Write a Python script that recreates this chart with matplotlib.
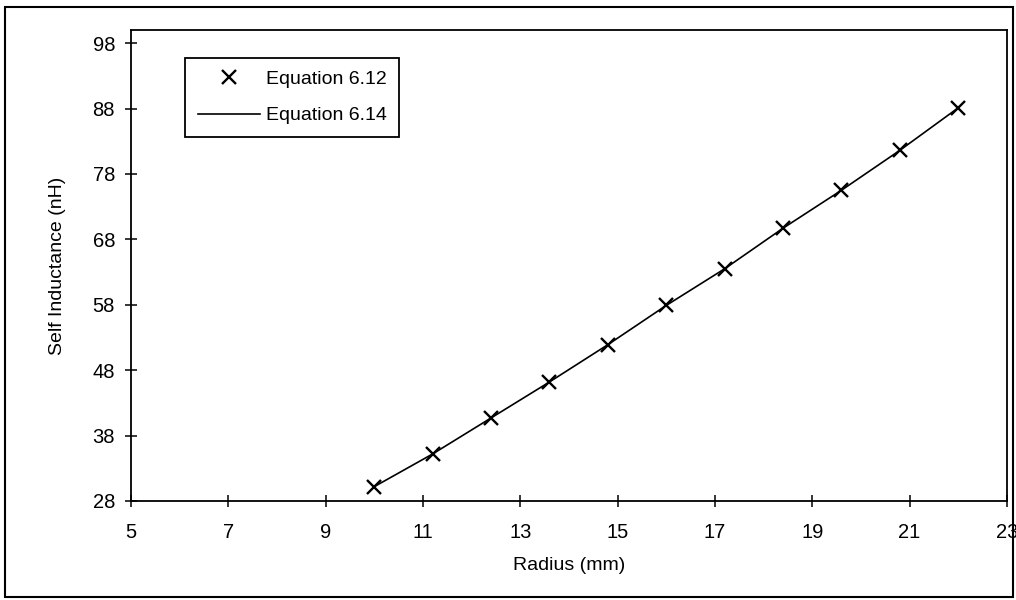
import matplotlib.pyplot as plt
from matplotlib.patches import Rectangle

plt.rcParams['font.family'] = ['Liberation Sans', 'DejaVu Sans']

# radius (mm) and self inductance (nH)
radius = [10, 11.2, 12.4, 13.6, 14.8, 16, 17.2, 18.4, 19.6, 20.8, 22]
eq612 = [30.2, 35.2, 40.7, 46.2, 51.9, 57.9, 63.5, 69.7, 75.5, 81.6, 88.1]
eq614 = [30.2, 35.2, 40.7, 46.2, 51.9, 57.9, 63.5, 69.7, 75.5, 81.6, 88.1]
xticks = [5, 7, 9, 11, 13, 15, 17, 19, 21, 23]
yticks = [28, 38, 48, 58, 68, 78, 88, 98]

fig = plt.figure(figsize=(10.16, 6), dpi=100)
ax = fig.add_axes([0.129, 0.165, 0.862, 0.785])

ax.plot(radius, eq612, linestyle='none', marker='x', markersize=10.5,
        markeredgewidth=1.7, color='black', label='Equation 6.12')
ax.plot(radius, eq614, color='black', linewidth=1.2, label='Equation 6.14')

ax.set_xlim(5, 23)
ax.set_ylim(28, 100)
ax.set_xticks(xticks)
ax.set_yticks(yticks)
ax.tick_params(direction='inout', length=9, width=1.1, labelsize=14.5)
ax.tick_params(axis='x', pad=11)
ax.tick_params(axis='y', pad=7)
for s in ax.spines.values():
    s.set_linewidth(1.3)

ax.set_xlabel('Radius (mm)', fontsize=14, labelpad=11)
ax.set_ylabel('Self Inductance (nH)', fontsize=14, labelpad=19)

leg = ax.legend(loc='upper left', bbox_to_anchor=(0.0616, 0.9406), borderaxespad=0,
                fancybox=False, edgecolor='black', fontsize=14, handlelength=3.2,
                handletextpad=0.3, framealpha=1, borderpad=0.65, labelspacing=0.95)
leg.get_frame().set_linewidth(1.3)

# outer border around whole chart
fig.patches.append(Rectangle((5 / 1016, 3 / 600), 1008 / 1016, 590 / 600,
                             transform=fig.transFigure, fill=False,
                             edgecolor='black', linewidth=1.5))

fig.savefig('out.png', dpi=100)
